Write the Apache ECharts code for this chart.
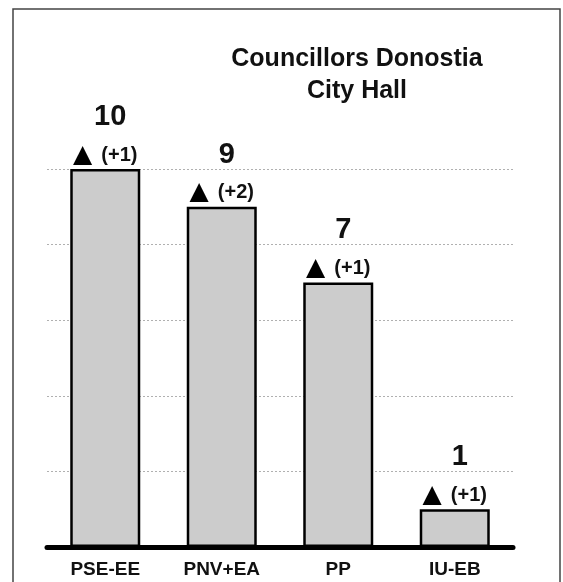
<!DOCTYPE html>
<html>
<head>
<meta charset="utf-8">
<style>
    html, body {
        margin: 0;
        padding: 0;
        background: #ffffff;
    }
    #chart {
        width: 563px;
        height: 582px;
    }
</style>
<script src="https://cdn.jsdelivr.net/npm/echarts@6/dist/echarts.min.js"></script>
</head>
<body>
<div id="chart"></div>
<script>
const categories = ['PSE-EE', 'PNV+EA', 'PP', 'IU-EB'];
const seats = [10, 9, 7, 1];
const changes = ['+1', '+2', '+1', '+1'];
const yTicks = [0, 2, 4, 6, 8, 10];

const font = '"Liberation Sans", Arial, sans-serif';

const chart = echarts.init(document.getElementById('chart'));

chart.setOption({
    animation: false,
    title: {
        text: 'Councillors Donostia\nCity Hall',
        left: 352,
        top: 38,
        textAlign: 'center',
        textStyle: {
            fontFamily: font,
            fontSize: 25,
            fontWeight: 'bold',
            color: '#111111',
            lineHeight: 32,
        },
    },
    graphic: [
        {
            // outer frame, open at the bottom
            type: 'polyline',
            shape: {
                points: [[13, 600], [13, 9], [560, 9], [560, 600]],
            },
            style: {
                stroke: '#444444',
                lineWidth: 1.5,
                fill: null,
            },
        },
    ],
    grid: {
        left: 47,
        right: 50,
        top: 169,
        bottom: 35,
    },
    xAxis: {
        type: 'category',
        data: categories,
        axisTick: { show: false },
        axisLine: {
            lineStyle: {
                color: '#000000',
                width: 5,
            },
        },
        axisLabel: {
            margin: 13,
            fontFamily: font,
            fontSize: 19,
            fontWeight: 'bold',
            color: '#111111',
        },
    },
    yAxis: {
        type: 'value',
        min: yTicks[0],
        max: yTicks[yTicks.length - 1],
        interval: 2,
        axisLine: { show: false },
        axisTick: { show: false },
        axisLabel: { show: false },
        splitLine: {
            lineStyle: {
                color: '#b0b0b0',
                type: [2, 2],
                width: 1,
            },
        },
    },
    series: [
        {
            type: 'bar',
            data: seats,
            barWidth: 70,
            itemStyle: {
                color: '#cccccc',
                borderColor: '#000000',
                borderWidth: 2.5,
            },
            label: {
                show: true,
                position: 'top',
                distance: 3,
                formatter: (p) => '{v|' + seats[p.dataIndex] + '}\n{t|▲}{d|(' + changes[p.dataIndex] + ')}',
                rich: {
                    v: {
                        fontFamily: font,
                        fontSize: 29,
                        fontWeight: 'bold',
                        color: '#111111',
                        lineHeight: 54,
                        padding: [0, 0, 0, 10],
                    },
                    t: {
                        fontFamily: '"DejaVu Sans", sans-serif',
                        fontSize: 25,
                        color: '#000000',
                        lineHeight: 22,
                        padding: [0, 9, 0, 0],
                    },
                    d: {
                        fontFamily: font,
                        fontSize: 20,
                        fontWeight: 'bold',
                        color: '#111111',
                        lineHeight: 22,
                    },
                },
            },
        },
    ],
});
</script>
</body>
</html>
